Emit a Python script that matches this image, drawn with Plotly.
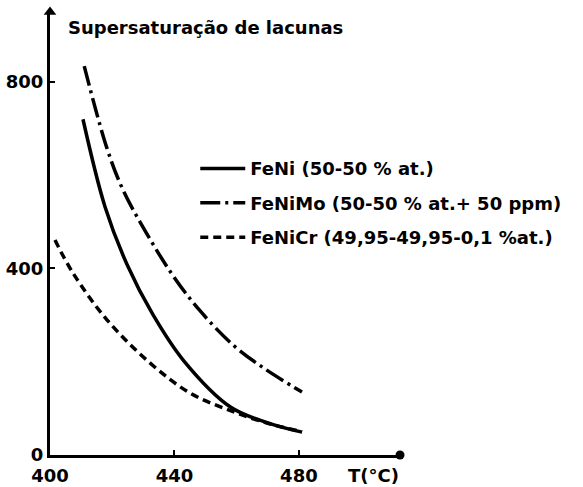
import plotly.graph_objects as go

# Data
T_feni = [410.6, 417.7, 424.8, 433.0, 443.0, 458.0, 470.0, 481.0]
S_feni = [720, 532, 408, 302, 202, 103, 69, 49]

T_femo = [411.0, 418.3, 423.5, 431.0, 439.5, 448.0, 459.0, 469.0, 481.0]
S_femo = [834, 658, 568, 476, 385, 311, 235, 185, 135]

T_fecr = [401.6, 407.4, 418.3, 432.2, 445.0, 458.0, 470.0, 481.0]
S_fecr = [461, 390, 290, 197, 133, 95, 68, 50]

names = ["FeNi (50-50 % at.)",
         "FeNiMo (50-50 % at.+ 50 ppm)",
         "FeNiCr (49,95-49,95-0,1 %at.)"]

x_ticks = [400, 440, 480]
y_ticks = [0, 400, 800]
x_range = [400, 512.5]
y_range = [0, 950]

FONT = "DejaVu Sans"
styles = ["solid", "20px,5px,3px,5px", "8px,5px"]
series = [(T_feni, S_feni), (T_femo, S_femo), (T_fecr, S_fecr)]

fig = go.Figure()
for i, ((xs, ys), nm, ds) in enumerate(zip(series, names, styles)):
    fig.add_trace(go.Scatter(x=xs, y=ys, mode="lines", name=nm, legendgroup=f"g{i}",
                             line=dict(color="black", width=3.5, shape="spline",
                                       smoothing=1.0, dash=ds)))

# axis end decorations
fig.add_trace(go.Scatter(x=[x_range[0]], y=[y_range[1]], mode="markers", showlegend=False,
                         marker=dict(symbol="triangle-up", size=11, color="black"), cliponaxis=False))
fig.add_trace(go.Scatter(x=[x_range[1]], y=[y_range[0]], mode="markers", showlegend=False,
                         marker=dict(symbol="circle", size=9, color="black"), cliponaxis=False))

fig.update_layout(
    width=583, height=487,
    margin=dict(l=50, r=183, t=12, b=32, autoexpand=False),
    paper_bgcolor="white", plot_bgcolor="white",
    font=dict(family=FONT, color="black", size=15, weight="bold"),
    xaxis=dict(range=x_range, showline=True, linewidth=3, linecolor="black",
               showgrid=False, zeroline=False, tickvals=x_ticks, automargin=False,
               ticktext=[str(v) for v in x_ticks], ticks="inside", ticklen=5,
               tickwidth=2, tickcolor="black", ticklabelstandoff=2,
               tickfont=dict(family=FONT, size=18, weight="bold")),
    yaxis=dict(range=y_range, showline=True, linewidth=3, linecolor="black",
               showgrid=False, zeroline=False, tickvals=y_ticks, automargin=False,
               ticktext=[str(v) for v in y_ticks], ticks="inside", ticklen=5,
               tickwidth=2, tickcolor="black", ticklabelstandoff=0,
               tickfont=dict(family=FONT, size=18, weight="bold")),
    legend=dict(x=0.415, y=0.688, xanchor="left", yanchor="top",
                bgcolor="rgba(0,0,0,0)", tracegroupgap=8, itemwidth=45,
                font=dict(family=FONT, size=18, weight="bold")),
    showlegend=True,
)

fig.add_annotation(text="Supersaturação de lacunas", xref="paper", yref="paper",
                   x=16 / 350, y=1 - 15 / 443, xanchor="left", yanchor="middle",
                   showarrow=False, font=dict(family=FONT, size=18, weight="bold"))
fig.add_annotation(text="T(°C)", xref="paper", yref="paper",
                   x=(373 - 50) / 350, y=-20 / 443, xanchor="center", yanchor="middle",
                   showarrow=False, font=dict(family=FONT, size=18, weight="bold"))

fig.write_html("out.html")
